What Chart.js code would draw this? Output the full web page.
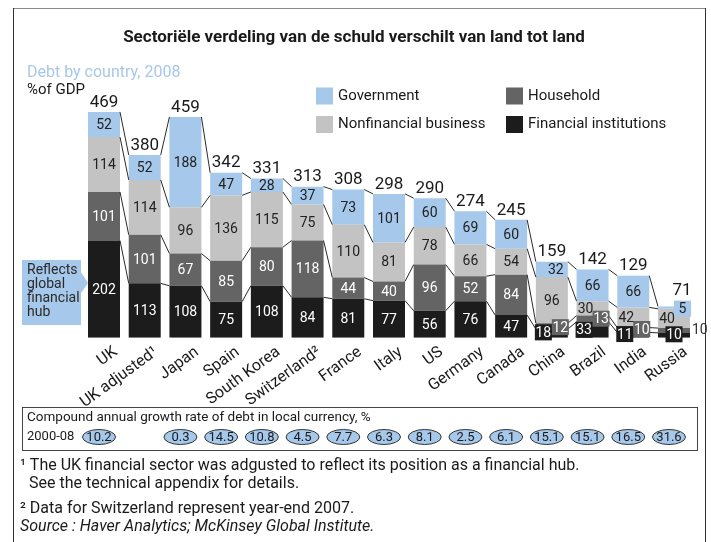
<!DOCTYPE html>
<html>
<head>
<meta charset="utf-8">
<script src="https://cdn.jsdelivr.net/npm/chart.js@4"></script>
<style>
  html, body { margin: 0; padding: 0; background: #fff; }
  #debtChart { display: block; }
</style>
</head>
<body>
<canvas id="debtChart" width="711" height="542"></canvas>
<script>
const countries = ['UK', 'UK adjusted¹', 'Japan', 'Spain', 'South Korea', 'Switzerland²', 'France', 'Italy', 'US', 'Germany', 'Canada', 'China', 'Brazil', 'India', 'Russia'];
const financialInstitutions = [202, 113, 108, 75, 108, 84, 81, 77, 56, 76, 47, 18, 33, 11, 10];
const household = [101, 101, 67, 85, 80, 118, 44, 40, 96, 52, 84, 12, 13, 10, 10];
const nonfinancialBusiness = [114, 114, 96, 136, 115, 75, 110, 81, 78, 66, 54, 96, 30, 42, 40];
const government = [52, 52, 188, 47, 28, 37, 73, 101, 60, 69, 60, 32, 66, 66, 5];
const totals = [469, 380, 459, 342, 331, 313, 308, 298, 290, 274, 245, 159, 142, 129, 71];
const growth2000to08 = [10.2, null, 0.3, 14.5, 10.8, 4.5, 7.7, 6.3, 8.1, 2.5, 6.1, 15.1, 15.1, 16.5, 31.6];

const FONT = 'Roboto, "Open Sans", sans-serif';
const COLORS = ['#1c1c1c', '#646464', '#c3c3c3', '#a6c8ea'];
const LABEL_INK = ['#fff', '#fff', '#222', '#222'];

// thin segments get a small coloured tile behind their number
const tileLabels = {
  '0-11': { side: 'left', dy: -1 },
  '1-11': { side: 'right', dy: 1 },
  '0-12': { side: 'left', dy: 0 },
  '1-12': { side: 'right', dy: 0 },
  '0-13': { side: 'left', dy: -1 },
  '1-13': { side: 'right', dy: -1 },
  '0-14': { side: 'center', dy: -1 },
  '3-14': { side: 'right', dy: 1 }
};
const outsideLabels = { '1-14': true };
const labelShift = { '3-11': 4, '2-12': -7, '2-13': -7, '2-14': -7 };
const totalShift = { 14: { dx: 8, dy: -6 } };

function text(ctx, str, x, y, font, color, align, baseline) {
  ctx.font = font;
  ctx.fillStyle = color;
  ctx.textAlign = align || 'left';
  ctx.textBaseline = baseline || 'alphabetic';
  ctx.fillText(str, x, y);
}

const debtDecor = {
  id: 'debtDecor',
  beforeDraw(chart) {
    const ctx = chart.ctx;
    ctx.save();
    // frame
    ctx.lineWidth = 1;
    ctx.strokeStyle = '#8a8a8a';
    ctx.beginPath(); ctx.moveTo(13, 8.5); ctx.lineTo(705, 8.5); ctx.stroke();
    ctx.strokeStyle = '#333';
    ctx.beginPath(); ctx.moveTo(13.5, 8); ctx.lineTo(13.5, 542); ctx.stroke();
    ctx.beginPath(); ctx.moveTo(705.5, 8); ctx.lineTo(705.5, 542); ctx.stroke();

    text(ctx, 'Sectoriële verdeling van de schuld verschilt van land tot land', 354, 42, 'bold 17px ' + FONT, '#1a1a1a', 'center');
    text(ctx, 'Debt by country, 2008', 27, 77, '16px ' + FONT, '#a6c8ea');
    text(ctx, '%of GDP', 27, 94, '15px ' + FONT, '#1a1a1a');

    // legend
    const legend = [
      [3, 'Government', 316, 96], [1, 'Household', 506, 96],
      [2, 'Nonfinancial business', 316, 124.5], [0, 'Financial institutions', 506, 124.5]
    ];
    legend.forEach(([c, label, x, y]) => {
      ctx.fillStyle = COLORS[c];
      ctx.fillRect(x, y - 8.5, 17, 17);
      text(ctx, label, x + 22, y, '15px ' + FONT, '#1a1a1a', 'left', 'middle');
    });

    // growth-rate box
    ctx.strokeStyle = '#444';
    ctx.strokeRect(22.5, 407.5, 675, 43);
    text(ctx, 'Compound annual growth rate of debt in local currency, %', 27, 418, '13.5px ' + FONT, '#1a1a1a', 'left', 'middle');
    text(ctx, '2000-08', 27, 437, '13px ' + FONT, '#1a1a1a', 'left', 'middle');

    // footnotes
    const fn = '16px ' + FONT;
    text(ctx, '¹ The UK financial sector was adgusted to reflect its position as a financial hub.', 20, 466, fn, '#1a1a1a', 'left', 'middle');
    text(ctx, 'See the technical appendix for details.', 29, 484, fn, '#1a1a1a', 'left', 'middle');
    text(ctx, '² Data for Switzerland represent year-end 2007.', 20, 509, fn, '#1a1a1a', 'left', 'middle');
    text(ctx, 'Source : Haver Analytics; McKinsey Global Institute.', 20, 527, 'italic ' + fn, '#1a1a1a', 'left', 'middle');
    ctx.restore();
  },
  afterDatasetsDraw(chart) {
    const ctx = chart.ctx;
    const y = chart.scales.y;
    const metas = chart.data.datasets.map((d, i) => chart.getDatasetMeta(i));
    const bars = metas[0].data;
    ctx.save();

    // connectors between neighbouring bars at every segment boundary
    ctx.strokeStyle = '#2a2a2a';
    ctx.lineWidth = 1;
    for (let i = 0; i < bars.length - 1; i++) {
      let cumA = 0, cumB = 0;
      chart.data.datasets.forEach(ds => {
        cumA += ds.data[i];
        cumB += ds.data[i + 1];
        const a = bars[i], b = bars[i + 1];
        ctx.beginPath();
        ctx.moveTo(a.x + a.width / 2, y.getPixelForValue(cumA));
        ctx.lineTo(b.x - b.width / 2, y.getPixelForValue(cumB));
        ctx.stroke();
      });
    }

    // segment values
    chart.data.datasets.forEach((ds, d) => {
      metas[d].data.forEach((bar, i) => {
        const key = d + '-' + i;
        const mid = (bar.y + bar.base) / 2;
        const str = String(ds.data[i]);
        const font = '14px ' + FONT;
        if (outsideLabels[key]) {
          text(ctx, str, bar.x + bar.width / 2 + 2, mid, font, '#333', 'left', 'middle');
          return;
        }
        const tile = tileLabels[key];
        if (tile) {
          const w = 17, h = 16;
          let x0 = bar.x - w / 2;
          if (tile.side === 'left') x0 = bar.x - bar.width / 2 - 1;
          if (tile.side === 'right') x0 = bar.x + bar.width / 2 + 1 - w;
          const cy = mid + tile.dy;
          ctx.fillStyle = COLORS[d];
          ctx.fillRect(x0, cy - h / 2, w, h);
          text(ctx, str, x0 + w / 2, cy + 1, font, LABEL_INK[d], 'center', 'middle');
          return;
        }
        text(ctx, str, bar.x + (labelShift[key] || 0), mid + 1, font, LABEL_INK[d], 'center', 'middle');
      });
    });

    // totals above each bar
    const tops = metas[metas.length - 1].data;
    tops.forEach((bar, i) => {
      const s = totalShift[i] || { dx: 0, dy: 0 };
      text(ctx, String(totals[i]), bar.x + s.dx, bar.y - 1 + s.dy, '17px ' + FONT, '#1a1a1a', 'center', 'bottom');
    });

    // rotated country names
    bars.forEach((bar, i) => {
      ctx.save();
      ctx.translate(bar.x + 7, 344);
      ctx.rotate(-36 * Math.PI / 180);
      text(ctx, countries[i], 0, 0, '16px ' + FONT, '#1a1a1a', 'right', 'top');
      ctx.restore();
    });

    // callout next to the UK bar
    const uk = bars[0];
    const tipX = uk.x - uk.width / 2;
    ctx.fillStyle = '#a6c8ea';
    ctx.beginPath();
    ctx.moveTo(22, 260); ctx.lineTo(tipX - 7, 260); ctx.lineTo(tipX - 7, 272);
    ctx.lineTo(tipX, 283); ctx.lineTo(tipX - 7, 293); ctx.lineTo(tipX - 7, 325);
    ctx.lineTo(22, 325); ctx.closePath(); ctx.fill();
    ['Reflects', 'global', 'financial', 'hub'].forEach((ln, k) => {
      text(ctx, ln, 27, 270 + k * 14, '14px ' + FONT, '#2a2a2a', 'left', 'middle');
    });

    // growth-rate ovals under each bar
    bars.forEach((bar, i) => {
      const v = growth2000to08[i];
      if (v === null) return;
      const cx = bar.x - 5;
      ctx.beginPath();
      ctx.ellipse(cx, 437, 16.5, 7.5, 0, 0, Math.PI * 2);
      ctx.fillStyle = '#a6c8ea';
      ctx.fill();
      ctx.strokeStyle = '#333';
      ctx.stroke();
      text(ctx, v.toFixed(1), cx, 438, '13px ' + FONT, '#1a1a1a', 'center', 'middle');
    });
    ctx.restore();
  }
};

const seriesNames = ['Financial institutions', 'Household', 'Nonfinancial business', 'Government'];
const seriesData = [financialInstitutions, household, nonfinancialBusiness, government];

new Chart(document.getElementById('debtChart').getContext('2d'), {
  type: 'bar',
  data: {
    labels: countries,
    datasets: seriesData.map((data, i) => ({
      label: seriesNames[i],
      data: data,
      backgroundColor: COLORS[i],
      borderWidth: 0,
      barPercentage: 0.786,
      categoryPercentage: 1
    }))
  },
  options: {
    responsive: false,
    devicePixelRatio: 1,
    animation: false,
    layout: { padding: { left: 83.65, right: 16.65, top: 97.2, bottom: 204.3 } },
    scales: {
      x: { stacked: true, display: false },
      y: { stacked: true, display: false, min: 0, max: 500 }
    },
    plugins: { legend: { display: false }, tooltip: { enabled: false } }
  },
  plugins: [debtDecor]
});
</script>
</body>
</html>
